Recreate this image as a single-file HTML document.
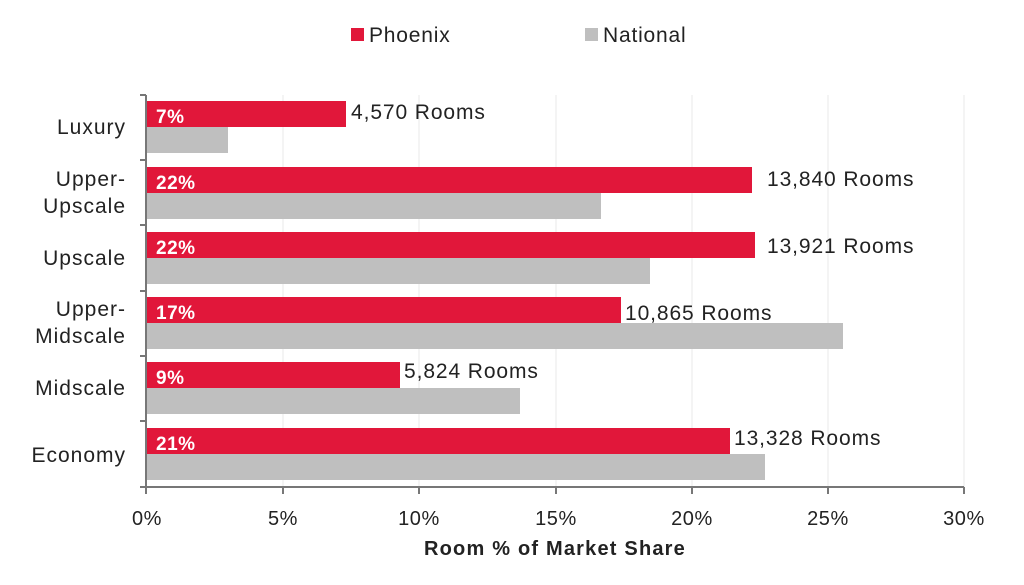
<!DOCTYPE html>
<html><head><meta charset="utf-8"><style>body{margin:0;background:#fff}svg{display:block}text{font-family:"Liberation Sans",sans-serif}</style></head>
<body>
<svg width="1024" height="585" viewBox="0 0 1024 585">
<rect x="351" y="28" width="13" height="13" fill="#e1173a"/>
<text x="369" y="42" font-size="21" letter-spacing="0.8" fill="#222">Phoenix</text>
<rect x="585" y="28" width="13" height="13" fill="#bfbfbf"/>
<text x="603" y="42" font-size="21" letter-spacing="0.8" fill="#222">National</text>
<g stroke="#e8e8e8" stroke-width="1">
<line x1="283" y1="95" x2="283" y2="487"/><line x1="419" y1="95" x2="419" y2="487"/><line x1="556" y1="95" x2="556" y2="487"/><line x1="692" y1="95" x2="692" y2="487"/><line x1="828" y1="95" x2="828" y2="487"/><line x1="964" y1="95" x2="964" y2="487"/>
</g>
<g fill="#e1173a">
<rect x="147" y="101" width="199" height="26"/>
<rect x="147" y="167" width="605" height="26"/>
<rect x="147" y="232" width="608" height="26"/>
<rect x="147" y="297" width="474" height="26"/>
<rect x="147" y="362" width="253" height="26"/>
<rect x="147" y="428" width="583" height="26"/>
</g>
<g fill="#bfbfbf">
<rect x="147" y="127" width="81" height="26"/>
<rect x="147" y="193" width="454" height="26"/>
<rect x="147" y="258" width="503" height="26"/>
<rect x="147" y="323" width="696" height="26"/>
<rect x="147" y="388" width="373" height="26"/>
<rect x="147" y="454" width="618" height="26"/>
</g>
<g stroke="#777" stroke-width="2" fill="none">
<line x1="146" y1="95" x2="146" y2="488"/>
<line x1="146" y1="487" x2="964" y2="487"/>
<path d="M140 95h6M140 160h6M140 225h6M140 291h6M140 356h6M140 421h6M140 487h6"/>
<path d="M146 487v7M283 487v7M419 487v7M556 487v7M692 487v7M828 487v7M964 487v7"/>
</g>
<g font-size="19" font-weight="bold" fill="#fff" letter-spacing="0.5">
<text x="156" y="123">7%</text><text x="156" y="189">22%</text><text x="156" y="254">22%</text><text x="156" y="319">17%</text><text x="156" y="384">9%</text><text x="156" y="450">21%</text>
</g>
<g font-size="21" fill="#222" letter-spacing="0.9">
<text x="351" y="119">4,570 Rooms</text>
<text x="767" y="186">13,840 Rooms</text>
<text x="767" y="253">13,921 Rooms</text>
<text x="625" y="320">10,865 Rooms</text>
<text x="404" y="378">5,824 Rooms</text>
<text x="734" y="445">13,328 Rooms</text>
</g>
<g font-size="21" fill="#222" text-anchor="end" letter-spacing="1">
<text x="126" y="134">Luxury</text>
<text x="126" y="186">Upper-</text><text x="126" y="213">Upscale</text>
<text x="126" y="265">Upscale</text>
<text x="126" y="316">Upper-</text><text x="126" y="343">Midscale</text>
<text x="126" y="395">Midscale</text>
<text x="126" y="462">Economy</text>
</g>
<g font-size="20" fill="#222" text-anchor="middle" letter-spacing="0.6">
<text x="147" y="525">0%</text><text x="283" y="525">5%</text><text x="419" y="525">10%</text><text x="556" y="525">15%</text><text x="692" y="525">20%</text><text x="828" y="525">25%</text><text x="964" y="525">30%</text>
</g>
<text x="555" y="555" font-size="20" font-weight="bold" fill="#222" text-anchor="middle" letter-spacing="1.2">Room % of Market Share</text>
</svg>
</body></html>
